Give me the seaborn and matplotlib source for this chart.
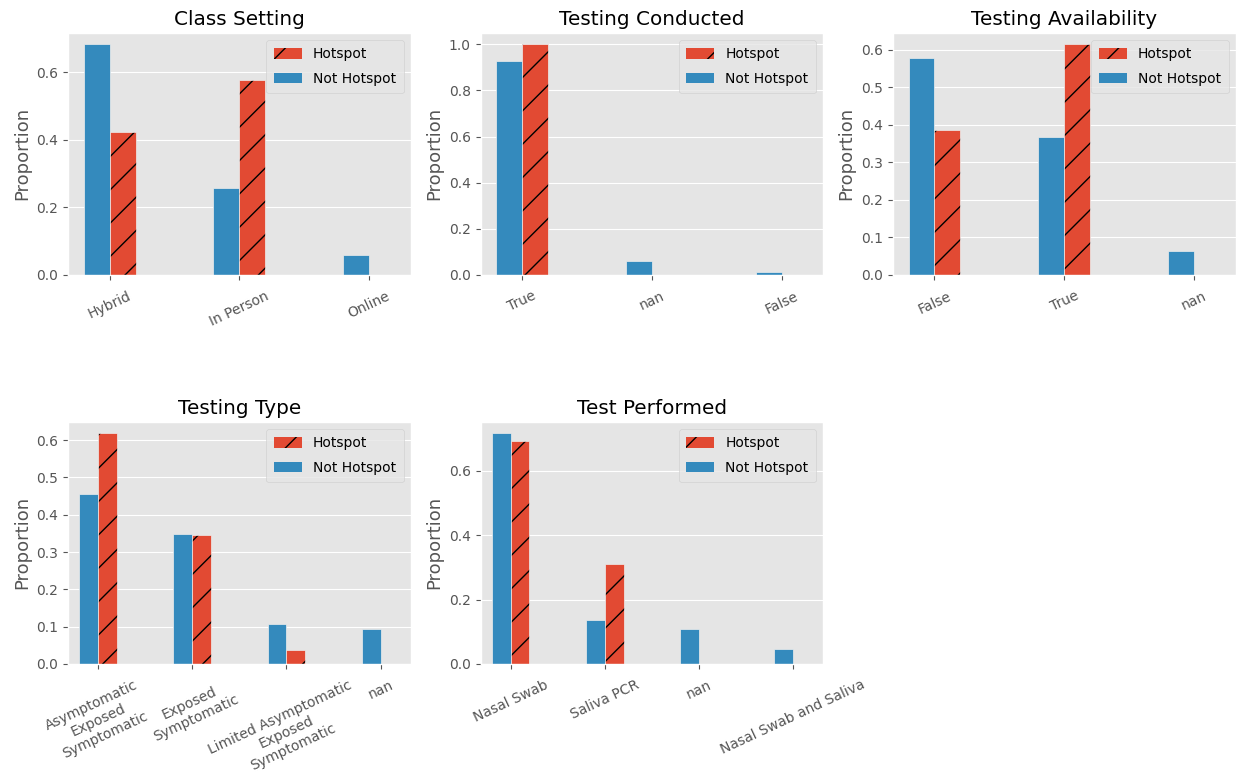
import numpy as np
import pandas as pd
import matplotlib
matplotlib.use('Agg')
import matplotlib.pyplot as plt
from matplotlib.ticker import MultipleLocator
import seaborn as sns

plt.style.use('ggplot')

# proportions
class_setting_cats = ['Hybrid', 'In Person', 'Online']
class_setting_not = [0.683, 0.258, 0.060]
class_setting_hot = [0.423, 0.577, 0.0]

conducted_cats = ['True', 'nan', 'False']
conducted_not = [0.926, 0.061, 0.014]
conducted_hot = [1.0, 0.0, 0.0]

availability_cats = ['False', 'True', 'nan']
availability_not = [0.578, 0.366, 0.063]
availability_hot = [0.386, 0.614, 0.0]

type_cats = ['Asymptomatic\nExposed\nSymptomatic', 'Exposed\nSymptomatic',
             'Limited Asymptomatic\nExposed\nSymptomatic', 'nan']
type_not = [0.455, 0.347, 0.106, 0.093]
type_hot = [0.618, 0.346, 0.038, 0.0]

performed_cats = ['Nasal Swab', 'Saliva PCR', 'nan', 'Nasal Swab and Saliva']
performed_not = [0.716, 0.137, 0.108, 0.045]
performed_hot = [0.693, 0.309, 0.0, 0.0]

panels = [
    ('Class Setting', class_setting_cats, class_setting_not, class_setting_hot, 0.2),
    ('Testing Conducted', conducted_cats, conducted_not, conducted_hot, 0.2),
    ('Testing Availability', availability_cats, availability_not, availability_hot, 0.1),
    ('Testing Type', type_cats, type_not, type_hot, 0.1),
    ('Test Performed', performed_cats, performed_not, performed_hot, 0.2),
]

fig, axes = plt.subplots(2, 3, figsize=(12.38, 7.82), dpi=100)
fig.subplots_adjust(left=0.055, right=0.998, top=0.958, bottom=0.151,
                    wspace=0.204, hspace=0.607)
axes = axes.flatten()

for ax, (title, cats, not_vals, hot_vals, step) in zip(axes, panels):
    df = pd.DataFrame({
        'category': cats * 2,
        'Proportion': not_vals + hot_vals,
        'group': ['Not Hotspot'] * len(cats) + ['Hotspot'] * len(cats),
    })
    sns.barplot(data=df, x='category', y='Proportion', hue='group',
                hue_order=['Not Hotspot', 'Hotspot'], order=cats,
                palette=['#348ABD', '#E24A33'], saturation=1, width=0.4, ax=ax)
    for i, cont in enumerate(ax.containers):
        for bar in cont:
            bar.set_edgecolor('#EEEEEE')
            bar.set_linewidth(0.5)
            if i == 1:
                bar.set_hatch('/')
                if hasattr(bar, 'set_hatchcolor'):
                    bar.set_hatchcolor('black')
                else:
                    bar._hatch_color = (0, 0, 0, 1)
    ax.set_title(title)
    ax.set_xlabel('')
    ax.set_ylabel('Proportion', fontsize=13)
    ax.set_xlim(-0.32, len(cats) - 1 + 0.32)
    ax.yaxis.set_major_locator(MultipleLocator(step))
    ax.tick_params(axis='x', labelrotation=25, pad=6.5)
    handles, labels = ax.get_legend_handles_labels()
    leg = ax.legend(handles[::-1], labels[::-1], loc='upper right',
                    labelspacing=0.75, borderpad=0.55, handleheight=0.8)
    hot_handle = leg.legend_handles[0]
    hot_handle.set_hatch('/')
    if hasattr(hot_handle, 'set_hatchcolor'):
        hot_handle.set_hatchcolor('black')
    else:
        hot_handle._hatch_color = (0, 0, 0, 1)

axes[5].set_visible(False)

fig.savefig('out.png', dpi=100)
